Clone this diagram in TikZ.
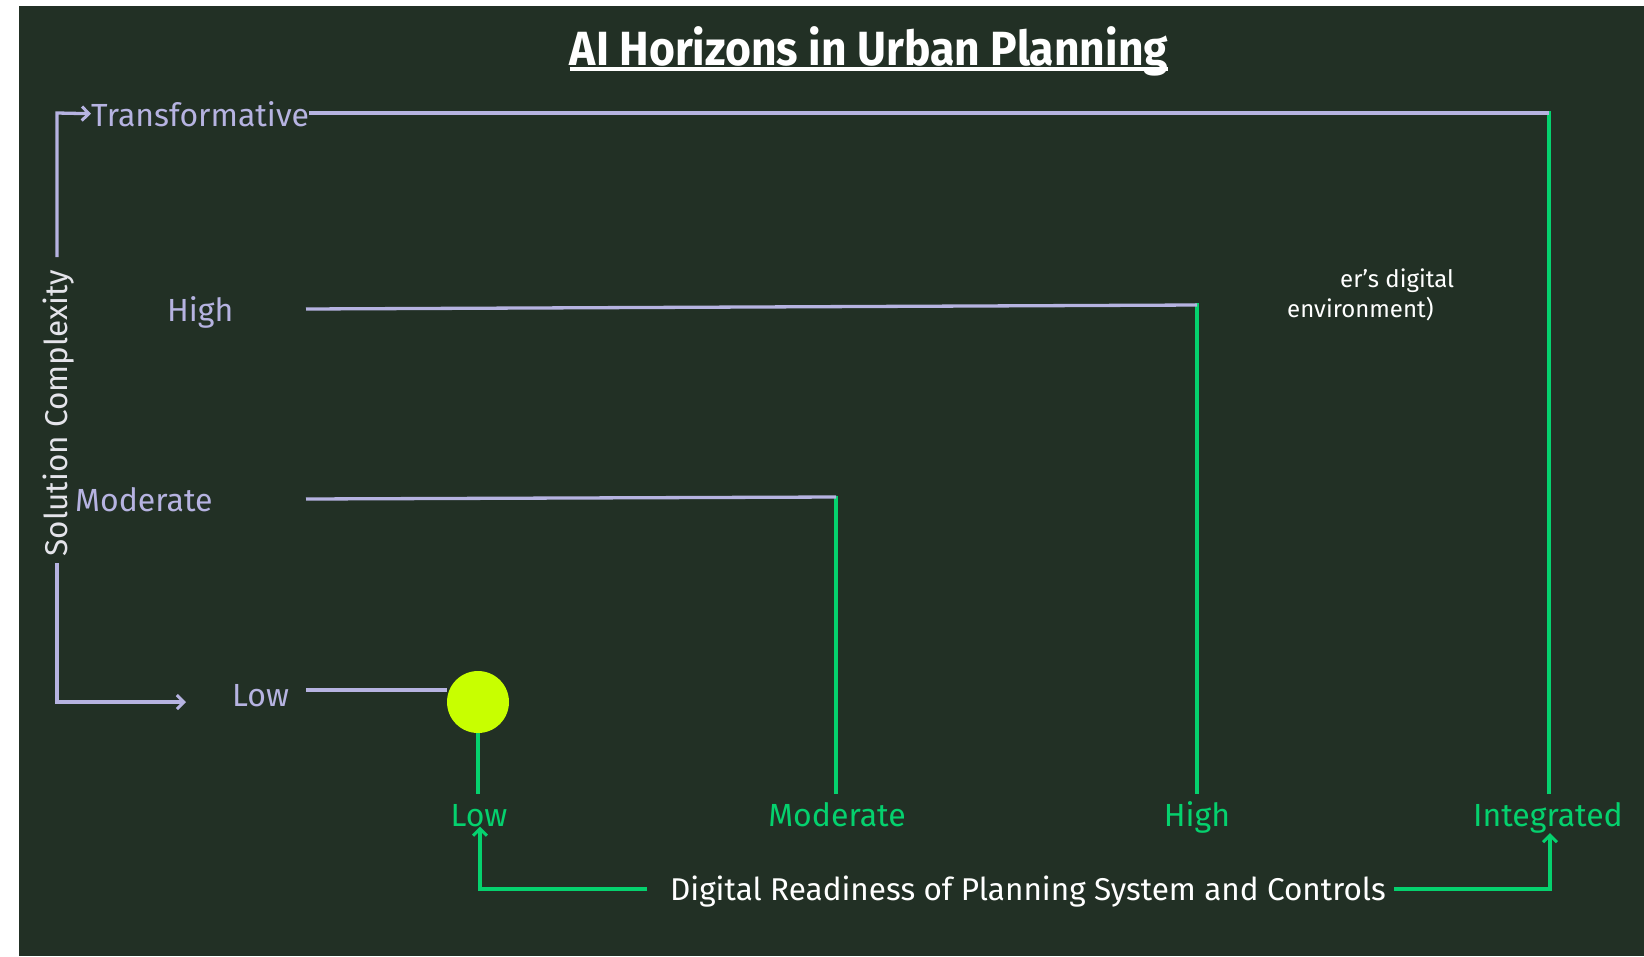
\documentclass[tikz,border=0pt]{standalone}
\usepackage{fontspec}
\setmainfont{Fira Sans}
\newfontfamily\titlefont[FakeStretch=0.925]{Fira Sans}
\newfontfamily\lblfont{Fira Sans}
\usetikzlibrary{arrows.meta}
\definecolor{bgc}{HTML}{223025}
\definecolor{lav}{HTML}{B6B3E1}
\definecolor{grn}{HTML}{05D16E}
\definecolor{lime}{HTML}{C8FF00}
\definecolor{axtext}{HTML}{E4E4EA}
\tikzset{
  lavline/.style={draw=lav,line width=3.3pt},
  grnline/.style={draw=grn,line width=3.3pt},
  tip/.style={-{Straight Barb[length=7pt,width=14pt,line width=3pt]}},
  lavlbl/.style={text=lav,inner sep=0pt,font=\lblfont\fontsize{32}{38}\selectfont},
  grnlbl/.style={text=grn,inner sep=0pt,font=\lblfont\fontsize{32}{38}\selectfont,anchor=base},
  note/.style={text=white,inner sep=0pt,font=\lblfont\fontsize{24}{29}\selectfont},
}
\begin{document}
\begin{tikzpicture}[x=1pt,y=-1pt]
\useasboundingbox (0,0) rectangle (1644,956);
\fill[white] (0,0) rectangle (1644,956);
\fill[bgc] (19,6) rectangle (1644,956);

% title
\node[text=white,inner sep=0pt,anchor=base,font=\titlefont\bfseries\fontsize{48}{56}\selectfont] (title) at (869,65) {AI Horizons in Urban Planning};
\draw[white,line width=3.5pt] ([yshift=-4pt]title.base west) -- ([yshift=-4pt]title.base east);

% vertical axis
\coordinate (ytop) at (57,113);
\coordinate (ymid1) at (57,257);
\coordinate (ymid2) at (57,563);
\coordinate (ybot) at (57,702);
\coordinate (xtip) at (186,702);
\node[text=axtext,inner sep=0pt,rotate=90,font=\lblfont\fontsize{31.5}{36}\selectfont] (sc) at (59,413) {Solution Complexity};

% lavender labels
\node[lavlbl,anchor=base west] (trans) at (91,126) {Transformative};
\node[lavlbl,anchor=base west] (lhigh) at (167,321) {High};
\node[lavlbl,anchor=base west] (lmod) at (75,511) {Moderate};
\node[lavlbl,anchor=base west] (llow) at (232,706) {Low};

\draw[lavline,tip] (ymid1) -- (ytop) -- (trans.west);
\draw[lavline,tip] (ymid2) -- (ybot) -- (xtip);

% horizons
\coordinate (tr) at (1549,113);
\coordinate (hs) at (306,309);
\coordinate (hr) at (1197,305);
\coordinate (ms) at (306,499);
\coordinate (mr) at (836,497);
\coordinate (ls) at (306,690);

\node[circle,fill=lime,minimum width=60pt,minimum height=62pt,inner sep=0pt] (dot) at (478,702) {};

% green labels
\node[grnlbl] (glow) at (479,826) {Low};
\node[grnlbl] (gmod) at (837,826) {Moderate};
\node[grnlbl] (ghigh) at (1197,826) {High};
\node[grnlbl] (gint) at (1548,826) {Integrated};

\coordinate (gend1) at (478,794);
\coordinate (gend2) at (836,794);
\coordinate (gend3) at (1197,794);
\coordinate (gend4) at (1549,794);

\draw[grnline] (dot.south) -- (gend1);
\draw[grnline] ([yshift=1.5pt]mr) -- (gend2);
\draw[grnline] ([yshift=2pt]hr) -- (gend3);
\draw[grnline] ([yshift=2pt]tr) -- (gend4);

\draw[lavline] (trans.east |- tr) -- (tr);
\draw[lavline] (hs) -- (hr);
\draw[lavline] (ms) -- (mr);
\draw[lavline] (ls) -- (ls -| dot.west);

% notes
\node[note,anchor=base west] (n1) at (1340,287) {er’s digital};
\node[note,anchor=base west] (n2) at (1287,317) {environment)};

% bottom axis
\node[text=white,inner sep=0pt,anchor=base,font=\lblfont\fontsize{31.5}{36}\selectfont] (dr) at (1028,900) {Digital Readiness of Planning System and Controls};
\coordinate (bl) at (647,889);
\coordinate (br) at (1394,889);
\coordinate (blc) at (480,889);
\coordinate (brc) at (1550,889);
\draw[grnline,tip] (bl) -- (blc) -- (blc |- glow.south);
\draw[grnline,tip] (br) -- (brc) -- (brc |- gint.south);
\end{tikzpicture}
\end{document}
